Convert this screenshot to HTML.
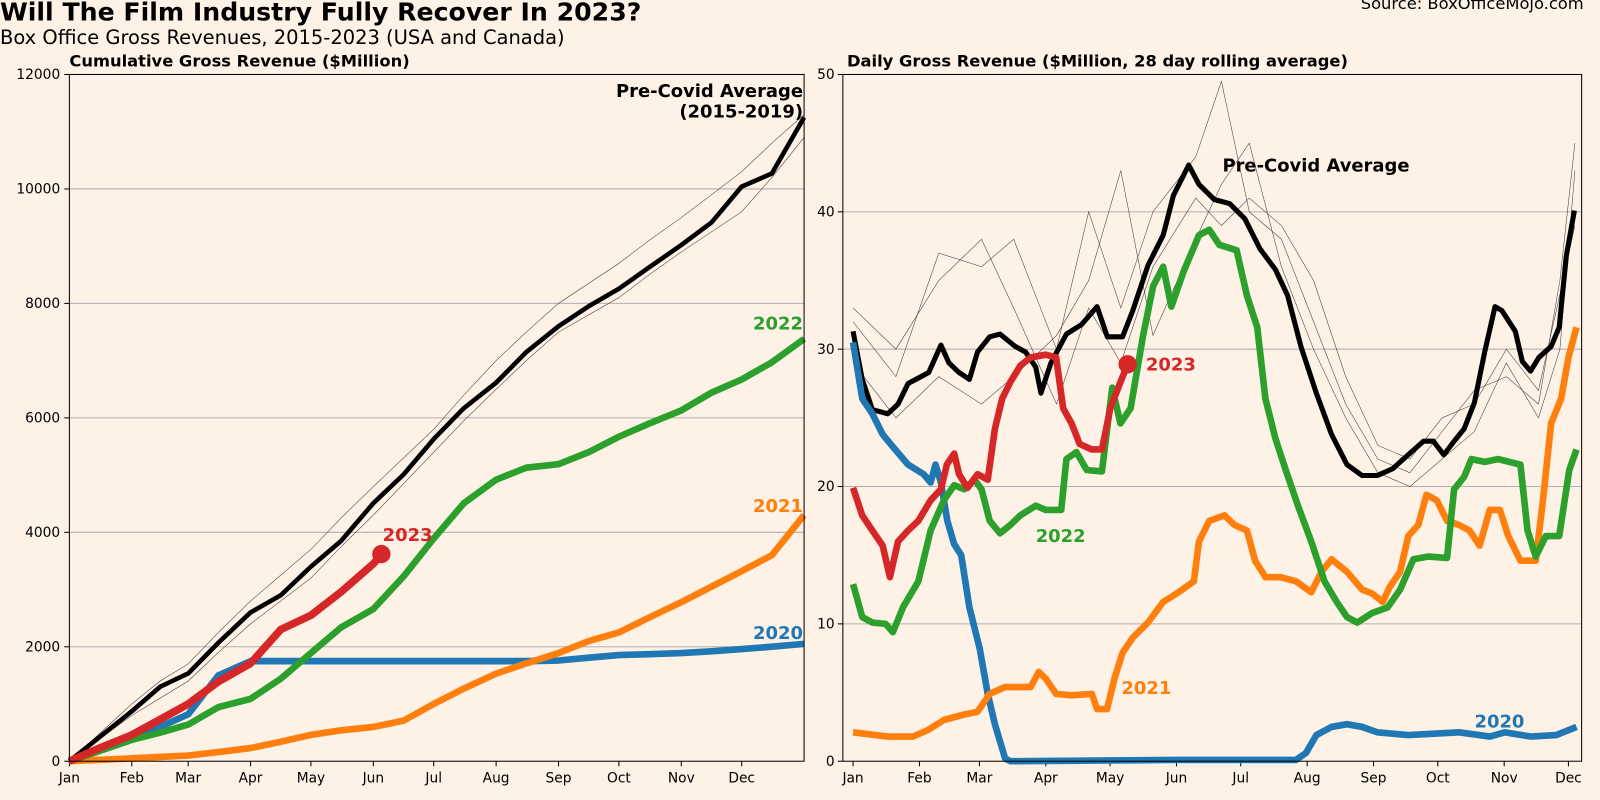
<!DOCTYPE html>
<html><head><meta charset="utf-8">
<style>
html,body{margin:0;padding:0;background:#fef1e6;}
svg{display:block;font-family:"DejaVu Sans","Liberation Sans",sans-serif;}
</style></head>
<body>
<svg id="c" width="1600" height="800" viewBox="0 0 1568 784">
<rect x="0" y="0" width="1568" height="784" fill="#fef1e6"/>
<text x="0" y="20" font-size="24.7" font-weight="bold" fill="#000">Will The Film Industry Fully Recover In 2023?</text>
<text x="0" y="43" font-size="19.1" fill="#000">Box Office Gross Revenues, 2015-2023 (USA and Canada)</text>
<text x="1552" y="9" font-size="16" fill="#000" text-anchor="end">Source: BoxOfficeMojo.com</text>
<text x="68" y="65" font-size="16" font-weight="bold">Cumulative Gross Revenue ($Million)</text>
<text x="830" y="65" font-size="16" font-weight="bold">Daily Gross Revenue ($Million, 28 day rolling average)</text>
<g id="L"></g>
<g id="R"></g>
</svg>
<script>
// ---------- Cumulative data (day of year, $M) ----------
const cumDays = [0,31,45,59,74,90,105,120,135,151,166,181,196,212,227,243,258,273,288,304,319,334,349,365];
const cumPre  = [0,874,1300,1533,2070,2600,2900,3400,3850,4510,5010,5630,6170,6615,7150,7600,7950,8255,8630,9020,9415,10040,10270,11250];
const cumThinU= [0,1000,1400,1700,2250,2800,3250,3700,4250,4800,5300,5800,6400,7000,7500,8000,8350,8700,9100,9500,9900,10300,10800,11300];
const cumThinL= [0,800,1100,1400,1900,2400,2800,3200,3750,4300,4850,5400,5950,6500,7000,7500,7800,8100,8500,8900,9250,9600,10200,10900];
const cum22   = [0,375,500,640,945,1090,1440,1890,2340,2660,3230,3890,4510,4920,5130,5190,5400,5670,5900,6130,6440,6670,6970,7380];
const cum21   = [0,50,75,100,160,230,340,460,540,600,710,1000,1270,1530,1710,1890,2100,2250,2510,2780,3050,3320,3600,4300];
const cum20   = [0,375,600,820,1500,1750,1750,1750,1750,1750,1750,1750,1750,1750,1750,1760,1810,1855,1870,1890,1920,1960,2000,2050];
const cum23Days = [0,15,31,45,59,74,90,105,120,135,151,155];
const cum23     = [0,230,460,730,1000,1390,1710,2300,2550,2960,3450,3620];
const leftTicks = [0,2000,4000,6000,8000,10000,12000];
const months = ["Jan","Feb","Mar","Apr","May","Jun","Jul","Aug","Sep","Oct","Nov","Dec"];
const monthStart = [0,31,59,90,120,151,181,212,243,273,304,334];

// ---------- Daily data (day of year, $M 28d avg) ----------
const preDays=[0,4.3,9,16.2,21,25.7,30.5,35.3,41,44.8,49.5,54.3,58.1,63.8,68.6,75.7,80.5,85.3,87.7,92.4,99.6,106.7,113.9,118.7,125.8,130.6,137.7,144.8,149.6,156.7,161.5,168.6,175.8,182.9,190,197.2,202.9,209.1,216.3,223.4,230.6,237.7,244.8,252,259.1,266.3,271,275.8,280.6,285.3,290.1,294.9,299.7,303,309.2,312.5,316.3,320.2,325.9,329.7,333,336.8];
const preVals=[31.3,27.8,25.6,25.3,26.0,27.5,27.9,28.3,30.3,29.0,28.3,27.8,29.8,30.9,31.1,30.2,29.8,28.7,26.8,29.0,31.1,31.8,33.1,30.9,30.9,32.8,36.1,38.3,41.2,43.4,42.0,40.9,40.6,39.5,37.3,35.8,33.9,30.2,26.8,23.8,21.6,20.8,20.8,21.3,22.3,23.3,23.3,22.3,23.3,24.2,26.1,29.8,33.1,32.8,31.3,29.1,28.4,29.4,30.2,31.6,36.8,40.1];
const thinDays=[0,20,40,60,75,95,110,125,140,160,172,185,200,215,230,245,260,275,290,305,320,330,337];
const thinA=[32,28,37,36,38,30,40,33,40,44,49.5,40,38,32,26,22,21,24,27,28,26,35,45];
const thinB=[29,25,28,26,28,31,35,43,31,38,42,45,36,30,25,21,20,22,24,29,25,30,43];
const thinC=[33,30,35,38,33,26,33,29,36,41,39,41,39,35,28,23,22,25,26,30,27,34,39];
const d23Days=[0,4.3,9,13.8,17.2,21,25.7,30.5,36.2,41,43.8,47.2,49.5,53.4,58.1,62.9,66.2,69.6,73.4,78.1,82.9,90,94.8,98.1,102,105.8,111.5,116.2,120.1,124.8,128.2];
const d23Vals=[19.9,17.9,16.8,15.7,13.4,16,16.8,17.5,19,19.8,21.6,22.4,20.9,19.9,20.9,20.5,24.2,26.4,27.6,28.8,29.4,29.6,29.4,25.7,24.6,23.1,22.7,22.7,25.7,27.6,28.9];
const d22Days=[0,4.3,9,15.2,18.6,23.3,30.5,36.2,42.4,47.2,51.9,56.7,60,63.8,68.6,73.4,78.1,85.3,90,97.2,99.6,104.3,109.1,116.2,121,124.8,129.6,135.3,140.1,144.8,148.6,154.4,161.5,166.3,171,179.1,183.9,188.7,192.5,197.2,202,207.7,213.9,220.1,225.8,230.6,235.4,242.5,249.6,255.4,261.6,268.7,277.3,280.6,285.3,288.7,294.9,301.1,311.6,314.9,318.7,323.5,329.7,334.4,337.8];
const d22Vals=[12.9,10.5,10.1,10,9.4,11.2,13.1,16.8,19,20.1,19.8,20.5,19.8,17.5,16.6,17.2,17.9,18.6,18.3,18.3,22,22.5,21.2,21.1,27.2,24.6,25.7,30.9,34.6,36,33.1,35.7,38.3,38.7,37.6,37.2,33.9,31.6,26.4,23.5,21.2,18.6,16,13.1,11.6,10.5,10.1,10.8,11.2,12.5,14.7,14.9,14.8,19.8,20.7,22,21.8,22,21.6,16.8,14.9,16.4,16.4,21.2,22.7];
const d21Days=[0,16.2,28.1,35.3,42.4,51.9,58.1,63.8,70.9,82.9,86.7,90,94.8,102,111.5,113.9,118.6,122,125.8,130.6,137.7,144.8,152,159.1,161.5,166.3,173.4,178.1,183.9,187.7,192.5,199.6,206.8,213.9,218.7,223.4,230.6,237.7,242.5,247.3,250.6,255.4,259.2,263.9,267.7,272.5,277.3,283,287.8,292.5,297.3,302,305.9,311.6,318.7,322.1,325.9,330.6,334,337.8];
const d21Vals=[2.1,1.8,1.8,2.3,3.0,3.4,3.6,4.9,5.4,5.4,6.5,6.0,4.9,4.8,4.9,3.8,3.8,6.0,7.9,9,10.1,11.6,12.3,13.1,16,17.5,17.9,17.2,16.8,14.6,13.4,13.4,13.1,12.3,13.8,14.7,13.8,12.5,12.2,11.6,12.7,13.8,16.4,17.2,19.4,19,17.5,17.2,16.8,15.7,18.3,18.3,16.4,14.6,14.6,19,24.6,26.4,29.4,31.6];
const d20Days=[0,4.3,9,13.8,18.6,25.7,32.9,36.2,38.5,41,44,47.2,50.5,54.3,59.1,62.9,66.2,71,73.4,149.6,206.8,211.5,216.3,223.4,230.6,237.7,244.9,259.2,283,297.3,304.4,316.3,328.3,337.8];
const d20Vals=[30.5,26.4,25.3,23.8,22.9,21.6,20.9,20.3,21.6,20.3,17.5,15.8,15.0,11.2,8.2,4.9,2.7,0.2,0,0.1,0.1,0.6,1.9,2.5,2.7,2.5,2.1,1.9,2.1,1.8,2.1,1.8,1.9,2.5];
const rightTicks=[0,10,20,30,40,50];

const NS="http://www.w3.org/2000/svg";
function mk(parent,tag,attrs,text){const e=document.createElementNS(NS,tag);for(const k in attrs)e.setAttribute(k,attrs[k]);if(text!==undefined)e.textContent=text;parent.appendChild(e);return e;}
function pathD(xs,ys,fx,fy){return xs.map((d,i)=>(i?"L":"M")+fx(d).toFixed(1)+","+fy(ys[i]).toFixed(1)).join("");}

// ---------- Left chart ----------
const L=document.getElementById("L");
const lx=d=>68+d*720/365, ly=v=>746-v*673/12000;
leftTicks.forEach(t=>{
  if(t>0&&t<12000){const g=mk(L,"line",{x1:68,x2:788,y1:ly(t),y2:ly(t),stroke:"#b0b0b0","stroke-width":1});
  
  }
  const tk=mk(L,"line",{x1:63,x2:68,y1:ly(t),y2:ly(t),stroke:"#000"});
  
  
  const tl=mk(L,"text",{x:59,y:ly(t)+4.5,"font-size":13.5,"text-anchor":"end"},String(t));
  
  
});
monthStart.forEach((d,i)=>{
  const tk=mk(L,"line",{x1:lx(d),x2:lx(d),y1:746,y2:751,stroke:"#000"});
  
  
  const tl=mk(L,"text",{x:lx(d),y:767,"font-size":13.5,"text-anchor":"middle"},months[i]);
  
  
});
[[cumThinU,"#333",0.5],[cumThinL,"#333",0.5]].forEach(s=>{
  const p=mk(L,"path",{d:pathD(cumDays,s[0],lx,ly),fill:"none",stroke:s[1],"stroke-width":s[2]});
  
  
});
[[cum20,"#1f77b4","cumulative-2020-line"],[cum21,"#ff7f0e","cumulative-2021-line"],[cum22,"#2ca02c","cumulative-2022-line"]].forEach(s=>{
  const p=mk(L,"path",{d:pathD(cumDays,s[0],lx,ly),fill:"none",stroke:s[1],"stroke-width":6.5,"stroke-linejoin":"round"});
  
  
});
{const p=mk(L,"path",{d:pathD(cumDays,cumPre,lx,ly),fill:"none",stroke:"#000","stroke-width":4.5,"stroke-linejoin":"round"});

}
{const p=mk(L,"path",{d:pathD(cum23Days,cum23,lx,ly),fill:"none",stroke:"#d62728","stroke-width":7.5,"stroke-linejoin":"round"});


const n=cum23.length-1;
const c=mk(L,"circle",{cx:lx(cum23Days[n]),cy:ly(cum23[n]),r:9,fill:"#d62728"});

}
{const f=mk(L,"rect",{x:68,y:73,width:720,height:673,fill:"none",stroke:"#000","stroke-width":1});

}
[["Pre-Covid Average",787,95,"#000","end"],["(2015-2019)",787,115,"#000","end"],["2022",738,323,"#2ca02c","start"],["2021",738,502,"#ff7f0e","start"],["2020",738,626,"#1f77b4","start"],["2023",375,530,"#d62728","start"]].forEach(a=>{
  const t=mk(L,"text",{x:a[1],y:a[2],fill:a[3],"font-size":17.6,"font-weight":"bold","text-anchor":a[4]},a[0]);
  
  
});

// ---------- Right chart ----------
const R=document.getElementById("R");
const rx=d=>836+d*2.099, ry=v=>746-v*13.46;
rightTicks.forEach(t=>{
  if(t>0&&t<50){const g=mk(R,"line",{x1:826,x2:1550,y1:ry(t),y2:ry(t),stroke:"#b0b0b0","stroke-width":1});
  
  }
  const tk=mk(R,"line",{x1:821,x2:826,y1:ry(t),y2:ry(t),stroke:"#000"});
  
  
  const tl=mk(R,"text",{x:818,y:ry(t)+4.5,"font-size":13.5,"text-anchor":"end"},String(t));
  
  
});
monthStart.forEach((d,i)=>{
  const tk=mk(R,"line",{x1:rx(d),x2:rx(d),y1:746,y2:751,stroke:"#000"});
  
  
  const tl=mk(R,"text",{x:rx(d),y:767,"font-size":13.5,"text-anchor":"middle"},months[i]);
  
  
});
[thinA,thinB,thinC].forEach(s=>{
  const p=mk(R,"path",{d:pathD(thinDays,s,rx,ry),fill:"none",stroke:"#333","stroke-width":0.5});
  
  
});
{const p=mk(R,"path",{d:pathD(preDays,preVals,rx,ry),fill:"none",stroke:"#000","stroke-width":5,"stroke-linejoin":"round"});

}
[[d20Days,d20Vals,"#1f77b4","daily-2020-line"],[d21Days,d21Vals,"#ff7f0e","daily-2021-line"],[d22Days,d22Vals,"#2ca02c","daily-2022-line"],[d23Days,d23Vals,"#d62728","daily-2023-line"]].forEach(s=>{
  const p=mk(R,"path",{d:pathD(s[0],s[1],rx,ry),fill:"none",stroke:s[2],"stroke-width":6.5,"stroke-linejoin":"round"});
  
  
});
{const n=d23Vals.length-1;
const c=mk(R,"circle",{cx:rx(d23Days[n]),cy:ry(d23Vals[n]),r:9,fill:"#d62728"});

}
{const f=mk(R,"rect",{x:826,y:73,width:724,height:673,fill:"none",stroke:"#000","stroke-width":1});

}
[["Pre-Covid Average",1198,168,"#000"],["2023",1123,363,"#d62728"],["2022",1015,531,"#2ca02c"],["2021",1099,680,"#ff7f0e"],["2020",1445,713,"#1f77b4"]].forEach(a=>{
  const t=mk(R,"text",{x:a[1],y:a[2],fill:a[3],"font-size":17.6,"font-weight":"bold"},a[0]);
  
  
});
</script>
</body></html>
